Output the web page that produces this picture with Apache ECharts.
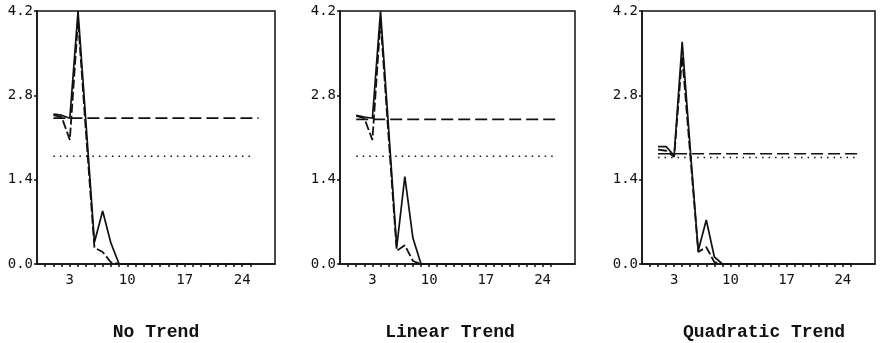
<!DOCTYPE html>
<html>
<head>
<meta charset="utf-8">
<script src="https://cdn.jsdelivr.net/npm/echarts@6/dist/echarts.min.js"></script>
<style>
html,body{margin:0;padding:0;background:#fff;}
#c{width:880px;height:343px;}
</style>
</head>
<body>
<div id="c"></div>
<script>
// ---- data ----
const lags = [1,2,3,4,5,6,7,8,9,10,11,12,13,14,15,16,17,18,19,20,21,22,23,24,25];
const panelTitles = ["No Trend", "Linear Trend", "Quadratic Trend"];
const yTicks = [0, 1.4, 2.8, 4.2];
const xLabels = [3, 10, 17, 24];
const xTickMarks = [0,1,2,3,4,5,6,7,8,9,10,11,12,13,14,15,16,17,18,19,20,21,22,23,24,25];

const noTrendSolid  = [2.49, 2.47, 2.42, 4.20, 2.28, 0.36, 0.88, 0.35, 0, 0, 0, 0, 0, 0, 0, 0, 0, 0, 0, 0, 0, 0, 0, 0, 0];
const noTrendDashed = [2.47, 2.44, 2.06, 4.05, 2.12, 0.27, 0.20, 0.03, 0, 0, 0, 0, 0, 0, 0, 0, 0, 0, 0, 0, 0, 0, 0, 0, 0];
const linearSolid   = [2.47, 2.44, 2.42, 4.20, 2.25, 0.28, 1.45, 0.43, 0, 0, 0, 0, 0, 0, 0, 0, 0, 0, 0, 0, 0, 0, 0, 0, 0];
const linearDashed  = [2.46, 2.42, 2.06, 4.05, 2.10, 0.22, 0.31, 0.05, 0, 0, 0, 0, 0, 0, 0, 0, 0, 0, 0, 0, 0, 0, 0, 0, 0];
const quadSolid     = [1.95, 1.95, 1.80, 3.69, 1.92, 0.22, 0.73, 0.12, 0, 0, 0, 0, 0, 0, 0, 0, 0, 0, 0, 0, 0, 0, 0, 0, 0];
const quadDashed    = [1.90, 1.88, 1.78, 3.45, 1.82, 0.20, 0.28, 0.03, 0, 0, 0, 0, 0, 0, 0, 0, 0, 0, 0, 0, 0, 0, 0, 0, 0];

const dashedLevel = [2.42, 2.40, 1.83];
const dottedLevel = [1.79, 1.79, 1.77];
const refStart = 1, dashedEnd = 26, dottedEnd = 25.5;

const solids = [noTrendSolid, linearSolid, quadSolid];
const dasheds = [noTrendDashed, linearDashed, quadDashed];

// ---- layout ----
const grids = [
  {left: 37, top: 11, width: 238, height: 253},
  {left: 340, top: 11, width: 235, height: 253},
  {left: 642, top: 11, width: 233, height: 253}
];
const titleCenters = [151, 445, 759];

const font = "'DejaVu Sans Mono', 'Liberation Mono', monospace";

const option = {
  backgroundColor: '#fff',
  animation: false,
  title: panelTitles.map((t, i) => ({
    text: t,
    left: titleCenters[i],
    top: 318,
    textAlign: 'center',
    textStyle: {fontFamily: "'Liberation Mono', 'Courier New', monospace", fontSize: 18, fontWeight: 'bold', color: '#111'}
  })),
  grid: grids.map(g => Object.assign({show: true, borderColor: '#111', borderWidth: 1.5, backgroundColor: 'transparent'}, g)),
  xAxis: grids.map((g, i) => ({
    type: 'value', gridIndex: i, min: -1, max: 28,
    splitLine: {show: false},
    axisLine: {show: true, onZero: false, lineStyle: {color: '#111', width: 1.5}},
    axisTick: {show: true, customValues: xTickMarks, length: 3, inside: false, lineStyle: {color: '#111', width: 1.5}},
    axisLabel: {customValues: xLabels, margin: 9, fontFamily: font, fontSize: 14, color: '#111'}
  })),
  yAxis: grids.map((g, i) => ({
    type: 'value', gridIndex: i, min: 0, max: 4.2, interval: 1.4,
    splitLine: {show: false},
    axisLine: {show: true, onZero: false, lineStyle: {color: '#111', width: 1.5}},
    axisTick: {show: true, length: 3, lineStyle: {color: '#111', width: 1.5}},
    axisLabel: {margin: 4, fontFamily: font, fontSize: 14, color: '#111',
      formatter: v => v.toFixed(1)}
  })),
  series: []
};

for (let i = 0; i < 3; i++) {
  option.series.push({
    type: 'line', xAxisIndex: i, yAxisIndex: i, symbol: 'none',
    data: [[refStart, dottedLevel[i]], [dottedEnd, dottedLevel[i]]],
    lineStyle: {color: '#111', width: 1.5, type: [1.5, 5]}
  });
  option.series.push({
    type: 'line', xAxisIndex: i, yAxisIndex: i, symbol: 'none',
    data: [[refStart, dashedLevel[i]], [dashedEnd, dashedLevel[i]]],
    lineStyle: {color: '#111', width: 1.7, type: [12, 5]}
  });
  option.series.push({
    type: 'line', xAxisIndex: i, yAxisIndex: i, symbol: 'none',
    data: lags.map((x, k) => [x, dasheds[i][k]]),
    lineStyle: {color: '#111', width: 1.8, type: [9, 3]}
  });
  option.series.push({
    type: 'line', xAxisIndex: i, yAxisIndex: i, symbol: 'none',
    data: lags.map((x, k) => [x, solids[i][k]]),
    lineStyle: {color: '#111', width: 1.7, type: 'solid'}
  });
}

const chart = echarts.init(document.getElementById('c'), null, {renderer: 'canvas'});
chart.setOption(option);
</script>
</body>
</html>
